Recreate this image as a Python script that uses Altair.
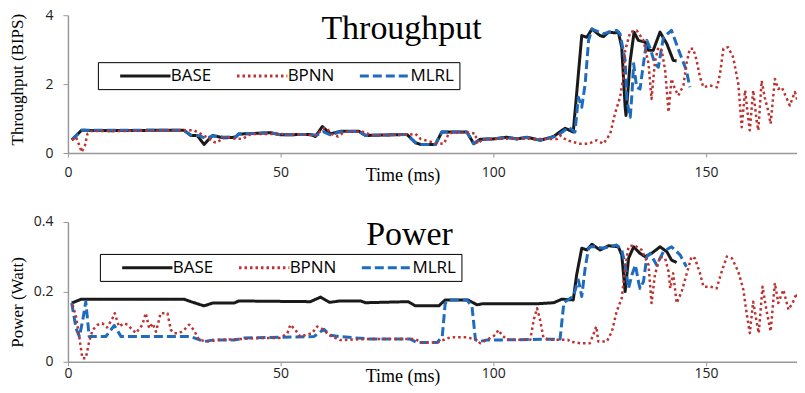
import altair as alt
import pandas as pd

SERIES = ["BASE", "BPNN", "MLRL"]
COLORS = ["#1a1a1a", "#BE3232", "#1F6CBE"]
DASHES = [[1, 0], [2.5, 3], [9, 4]]
X_TICKS = [0, 50, 100, 150]
TP_TICKS = [0, 2, 4]
PW_TICKS = [0, 0.2, 0.4]
TITLES = ["Throughput", "Power"]

# ---------------- Throughput (BIPS) ----------------
TP_BASE_T = [0.9, 3.2, 10, 20, 27.3, 28.9, 30.4, 32, 34, 36.6, 39.4, 40.1, 47.6, 50, 57, 58.2, 59.8, 61.7, 64.1, 68.4, 70, 79.7, 81.7, 82.9, 86.4, 87.9, 93.8, 95.4, 96.9, 100, 103.2, 105.6, 107.9, 111, 114.2, 115.7, 116.9, 118.8, 120.8, 122, 123.2, 125.1, 125.9, 127.1, 128.6, 129.4, 130.2, 131, 131.2, 132.2, 133.1, 134.1, 135.7, 136.5, 137.6, 139.2, 140.8, 142.3, 143.1]
TP_BASE_V = [0.38, 0.66, 0.65, 0.66, 0.66, 0.51, 0.51, 0.25, 0.51, 0.44, 0.46, 0.55, 0.59, 0.53, 0.54, 0.48, 0.77, 0.56, 0.63, 0.63, 0.51, 0.54, 0.30, 0.25, 0.25, 0.61, 0.61, 0.27, 0.40, 0.41, 0.46, 0.41, 0.46, 0.37, 0.48, 0.62, 0.72, 0.61, 3.41, 3.36, 3.60, 3.41, 3.38, 3.51, 3.49, 3.51, 3.07, 1.33, 1.09, 2.69, 3.51, 3.27, 3.22, 2.98, 2.98, 3.51, 3.17, 2.69, 2.67]

TP_MLRL_T = [0.9, 3.2, 27.3, 28.9, 31, 32.5, 34, 36.6, 39.4, 40.1, 47.6, 50, 57, 58.5, 60, 61.7, 64.1, 68.4, 70, 79.7, 81.7, 82.9, 86.4, 87.9, 93.8, 95.4, 96.9, 100, 103.2, 105.6, 107.9, 111, 114.2, 115.7, 117.7, 119.2, 120, 120.8, 121.6, 122.4, 123.2, 125.9, 127.1, 129, 129.8, 131, 131.4, 132.2, 132.6, 133, 133.7, 134.5, 135.3, 136.1, 136.9, 138, 138.8, 140, 141.9, 143.9, 145.4, 146.2]
TP_MLRL_V = [0.38, 0.66, 0.66, 0.52, 0.50, 0.42, 0.50, 0.46, 0.47, 0.55, 0.59, 0.53, 0.54, 0.52, 0.62, 0.53, 0.62, 0.63, 0.51, 0.54, 0.30, 0.25, 0.25, 0.61, 0.61, 0.27, 0.40, 0.41, 0.45, 0.41, 0.45, 0.38, 0.47, 0.56, 0.75, 0.61, 1.62, 1.33, 2.01, 3.27, 3.60, 3.46, 3.51, 3.56, 3.46, 2.69, 1.53, 1.04, 1.72, 2.59, 1.91, 1.86, 2.59, 3.27, 3.03, 2.59, 2.49, 3.36, 3.56, 2.88, 2.40, 1.91]

TP_BPNN_T = [0.9, 1.9, 2.7, 3.2, 4, 4.6, 5.5, 10, 20, 27.3, 29.6, 32, 34.3, 35, 37, 39, 41, 43, 45, 50, 55, 58.2, 60.2, 61, 62, 63.5, 65, 68.4, 70, 71.1, 80.5, 81.7, 82.9, 86.4, 88.4, 89.5, 90.5, 94.5, 95.8, 96.2, 97.7, 100, 105, 110, 115, 115.7, 117.3, 118.8, 120.4, 122.4, 124.3, 125.9, 127.5, 128.6, 129.8, 130.6, 131, 132.2, 133.7, 135.3, 136.5, 137.2, 138, 138.8, 139.6, 140.4, 141.2, 141.9, 142.7, 143.5, 144.7, 145.4, 146.2, 147, 147.8, 148.6, 149.4, 151, 152.6, 153.3, 154.1, 155.2, 156.4, 157.6, 158.4, 159.2, 159.9, 160.3, 161.1, 161.9, 162.3, 163.1, 163.8, 164.6, 165.2, 166.2, 167, 167.8, 168.5, 169.7, 170.9, 172, 173]
TP_BPNN_V = [0.38, 0.46, 0.22, 0.03, 0.22, 0.56, 0.64, 0.64, 0.65, 0.66, 0.66, 0.51, 0.32, 0.30, 0.48, 0.42, 0.41, 0.55, 0.55, 0.55, 0.54, 0.51, 0.72, 0.70, 0.55, 0.48, 0.62, 0.62, 0.61, 0.51, 0.54, 0.56, 0.41, 0.29, 0.27, 0.56, 0.60, 0.60, 0.56, 0.27, 0.41, 0.41, 0.42, 0.41, 0.41, 0.51, 0.37, 0.32, 0.27, 0.27, 0.37, 0.27, 0.56, 1.14, 1.62, 2.20, 2.98, 3.51, 3.56, 3.27, 2.59, 1.57, 2.64, 3.07, 2.98, 2.40, 1.19, 2.15, 1.86, 1.67, 1.96, 2.59, 3.03, 3.03, 2.69, 2.20, 1.91, 1.96, 1.91, 2.30, 3.03, 3.07, 2.78, 2.01, 0.75, 1.82, 1.04, 0.66, 1.82, 0.95, 0.66, 2.10, 1.62, 1.24, 0.85, 2.15, 1.86, 1.91, 1.72, 1.38, 1.77, 1.33, 1.91]

# ---------------- Power (Watt) ----------------
PW_BASE_T = [0.9, 3.1, 27.3, 28.9, 32, 34, 39, 40.2, 57, 59.4, 61.5, 64, 68.8, 70, 80, 81.7, 87.2, 88.7, 94, 96.2, 97.5, 110.3, 114.2, 116.1, 118.8, 119.6, 120.8, 122, 123.2, 125.1, 127.1, 129.4, 130.2, 131, 131.8, 133, 134.5, 135.7, 137.2, 139.2, 140.8, 141.9, 143.1]
PW_BASE_V = [0.168, 0.179, 0.179, 0.172, 0.160, 0.168, 0.168, 0.174, 0.172, 0.185, 0.170, 0.174, 0.174, 0.169, 0.172, 0.160, 0.160, 0.177, 0.177, 0.163, 0.166, 0.166, 0.169, 0.179, 0.177, 0.249, 0.325, 0.320, 0.336, 0.320, 0.332, 0.329, 0.306, 0.201, 0.296, 0.329, 0.310, 0.301, 0.310, 0.329, 0.315, 0.291, 0.284]

PW_MLRL_T = [0.9, 1.9, 2.7, 3.5, 4.2, 5, 8.9, 10.9, 12.5, 28.9, 32, 34, 39, 41.4, 57.8, 60.2, 61.7, 64, 71.1, 80.5, 82.1, 86.8, 88, 88.7, 89.5, 93.8, 95, 95.8, 96.6, 98.4, 115.7, 116.6, 118.8, 120, 120.8, 121.6, 122.4, 123.2, 125.9, 127.1, 129, 130.2, 131, 131.8, 132.6, 133.4, 134.2, 134.5, 135.3, 136.1, 136.9, 138.4, 140, 141.9, 143.9, 145.4]
PW_MLRL_V = [0.168, 0.096, 0.072, 0.120, 0.172, 0.072, 0.072, 0.104, 0.072, 0.072, 0.058, 0.062, 0.062, 0.068, 0.072, 0.093, 0.076, 0.072, 0.065, 0.065, 0.055, 0.055, 0.072, 0.168, 0.177, 0.177, 0.158, 0.063, 0.058, 0.062, 0.065, 0.170, 0.187, 0.234, 0.187, 0.268, 0.325, 0.330, 0.325, 0.329, 0.334, 0.320, 0.277, 0.210, 0.249, 0.277, 0.225, 0.210, 0.229, 0.301, 0.310, 0.277, 0.315, 0.329, 0.306, 0.272]

PW_BPNN_T = [1.1, 1.9, 2.7, 3.4, 4.2, 5, 5.8, 7, 8.1, 9.2, 10.5, 11, 12, 13.2, 14, 14.8, 16, 17.5, 18.3, 19.1, 19.9, 20.7, 21.8, 23.4, 24.2, 25, 26.2, 27.3, 28.5, 29.6, 30.8, 32.6, 35.8, 40.5, 45, 50, 51.6, 52.3, 53.5, 54.6, 57.4, 58.6, 60.2, 61.3, 64, 70, 80, 81.7, 83, 86.8, 88.4, 89.9, 93.8, 96.2, 96.9, 98.4, 100.5, 101.2, 102, 103.2, 108.7, 109.5, 110.3, 111, 111.8, 113.3, 117.6, 118, 120.4, 122.7, 123.5, 124.2, 124.7, 126.7, 127.9, 129, 130.2, 131, 131.8, 133, 134.9, 136.5, 137.2, 138, 139.2, 140.4, 141.2, 141.6, 142.3, 143.1, 144.3, 145.4, 146.6, 147.4, 148.6, 149.4, 151, 152.5, 153.7, 154.9, 156.1, 157.6, 158.8, 159.5, 160.3, 161.1, 161.9, 162.4, 163.3, 164.2, 165.2, 166.2, 167, 168.2, 169.4, 170.5, 171.3, 172.4, 173]
PW_BPNN_V = [0.163, 0.129, 0.068, 0.010, 0.010, 0.058, 0.091, 0.106, 0.110, 0.098, 0.125, 0.139, 0.101, 0.110, 0.106, 0.096, 0.082, 0.106, 0.139, 0.096, 0.110, 0.086, 0.139, 0.139, 0.091, 0.082, 0.082, 0.091, 0.106, 0.091, 0.063, 0.058, 0.063, 0.065, 0.068, 0.068, 0.082, 0.106, 0.091, 0.072, 0.082, 0.101, 0.091, 0.077, 0.062, 0.065, 0.065, 0.065, 0.055, 0.055, 0.063, 0.070, 0.070, 0.063, 0.053, 0.062, 0.077, 0.091, 0.077, 0.063, 0.063, 0.120, 0.153, 0.120, 0.068, 0.063, 0.063, 0.058, 0.053, 0.053, 0.077, 0.101, 0.058, 0.058, 0.087, 0.144, 0.182, 0.268, 0.329, 0.334, 0.320, 0.277, 0.168, 0.249, 0.301, 0.296, 0.258, 0.210, 0.253, 0.168, 0.201, 0.249, 0.301, 0.296, 0.253, 0.215, 0.215, 0.210, 0.258, 0.301, 0.296, 0.258, 0.206, 0.144, 0.082, 0.172, 0.115, 0.082, 0.215, 0.149, 0.087, 0.225, 0.168, 0.206, 0.149, 0.172, 0.196, 0.149, 0.201]

X_MAX = 171.4
PLOT_W = 730
SERIF = "Liberation Serif"
SANS = "Open Sans"
WIDTHS = {"BASE": 3, "MLRL": 3, "BPNN": 2.5}
# horizontal line symbol, scaled by sqrt(symbolSize)/2
LINE_SYMBOL = "M-4.2,0H4.2"


def long_df(parts):
    frames = [pd.DataFrame({"t": t, "v": v, "series": s}) for s, t, v in parts]
    return pd.concat(frames, ignore_index=True)


def panel(df, title, title_x, title_y, ytitle, yticks, ymax, height, ytitle_y,
          legend_x, legend_y, xlabel_pad, xtitle_y):
    legend = alt.Legend(
        orient="none", legendX=legend_x, legendY=legend_y, direction="horizontal",
        columns=3, title=None, symbolType=LINE_SYMBOL, symbolSize=144,
        symbolStrokeWidth=3, labelFont=SANS, labelFontSize=17, labelColor="black",
        strokeColor="black", fillColor="white", padding=5, columnPadding=8,
        labelOffset=17, symbolOffset=34,
    )
    x = alt.X("t:Q", scale=alt.Scale(domain=[0, X_MAX], nice=False, zero=False),
              axis=alt.Axis(values=X_TICKS, title="Time (ms)", titleFont=SERIF,
                            titleFontSize=18, titleFontWeight="normal", titleColor="black",
                            titleX=335, titleY=xtitle_y, titleBaseline="alphabetic",
                            labelFont=SANS, labelFontSize=14, labelColor="#222",
                            labelFlush=False,
                            labelPadding=xlabel_pad, tickSize=4, tickColor="#999",
                            domainColor="#999", domainWidth=1.5, grid=False))
    y = alt.Y("v:Q", scale=alt.Scale(domain=[0, ymax], nice=False),
              axis=alt.Axis(values=yticks, format="~g", title=ytitle, titleFont=SERIF,
                            titleFontSize=17, titleFontWeight="normal", titleColor="black",
                            titleX=-41, titleY=ytitle_y, titleBaseline="bottom",
                            labelFont=SANS, labelFontSize=14, labelColor="#222",
                            labelPadding=10, tickSize=5, tickColor="#999",
                            domainColor="#999", domainWidth=1.5, grid=False))
    color = alt.Color("series:N", scale=alt.Scale(domain=SERIES, range=COLORS), legend=legend)
    dash = alt.StrokeDash("series:N", scale=alt.Scale(domain=SERIES, range=DASHES), legend=legend)
    base = alt.Chart(df)
    layers = []
    for s in ["BASE", "MLRL", "BPNN"]:
        layers.append(
            base.transform_filter(alt.datum.series == s)
            .mark_line(strokeWidth=WIDTHS[s], clip=True, strokeJoin="round")
            .encode(x=x, y=y, color=color, strokeDash=dash, order="t:Q")
        )
    title_layer = (
        alt.Chart(pd.DataFrame({"label": [title]}))
        .mark_text(font=SERIF, fontSize=34, align="center", baseline="alphabetic",
                   color="black")
        .encode(text="label:N", x=alt.value(title_x), y=alt.value(title_y))
    )
    return alt.layer(*layers, title_layer).properties(width=PLOT_W, height=height)


tp_df = long_df([("BASE", TP_BASE_T, TP_BASE_V), ("MLRL", TP_MLRL_T, TP_MLRL_V),
                 ("BPNN", TP_BPNN_T, TP_BPNN_V)])
pw_df = long_df([("BASE", PW_BASE_T, PW_BASE_V), ("MLRL", PW_MLRL_T, PW_MLRL_V),
                 ("BPNN", PW_BPNN_T, PW_BPNN_V)])

top = panel(tp_df, TITLES[0], 334, 24, "Throughput (BIPS)", TP_TICKS, 4, 138, 64,
            30, 47, 8, 27)
bottom = panel(pw_df, TITLES[1], 342, 23, "Power (Watt)", PW_TICKS, 0.4, 140, 80,
               32, 32, 1, 20)

chart = (
    alt.vconcat(top, bottom, spacing=31)
    .resolve_scale(color="independent", strokeDash="independent")
    .resolve_legend(color="independent", strokeDash="independent")
    .properties(padding={"left": 0, "top": 0, "right": 0, "bottom": 0})
    .configure_view(strokeWidth=0)
)

chart.save("out.html", embed_options={"renderer": "svg", "actions": False})
